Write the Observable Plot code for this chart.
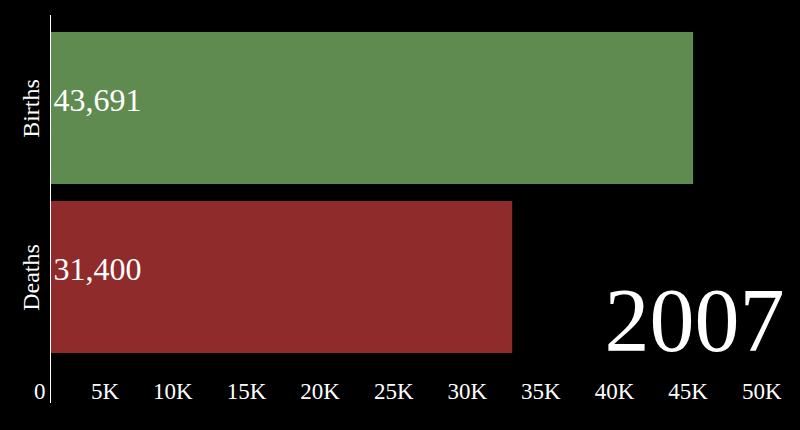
<!DOCTYPE html>
<html><head><meta charset="utf-8">
<script src="https://cdn.jsdelivr.net/npm/d3@7"></script>
<script src="https://cdn.jsdelivr.net/npm/@observablehq/plot@0.6"></script>
<style>html,body{margin:0;padding:0;background:#000;}</style>
</head><body><div id="chart"></div>
<script>
const categories = ["Births", "Deaths"];
const values = [43691, 31400];
const colors = ["#5f8b50", "#8f2b2b"];
const year = "2007";
const tickValues = [0, 5000, 10000, 15000, 20000, 25000, 30000, 35000, 40000, 45000, 50000];
const tickLabels = ["0", "5K", "10K", "15K", "20K", "25K", "30K", "35K", "40K", "45K", "50K"];

const data = categories.map((c, i) => ({category: c, value: values[i]}));
const font = "'Liberation Serif', 'DejaVu Serif', serif";
const fmt = d3.format(",");

const chart = Plot.plot({
  width: 800, height: 430,
  marginLeft: 50, marginRight: 14, marginTop: 15, marginBottom: 60,
  style: {background: "#000", color: "#fff", fontFamily: font},
  x: {domain: [0, 50000], label: null},
  y: {domain: categories, padding: 0.1, label: null},
  color: {domain: categories, range: colors},
  marks: [
    Plot.barX(data, {x: "value", y: "category", fill: "category"}),
    Plot.text(data, {x: 0, y: "category", text: d => fmt(d.value), textAnchor: "start", dx: 3, dy: -8, fill: "#fff", fontSize: 32}),
    Plot.ruleX([0], {stroke: "#fff", insetBottom: -33, strokeWidth: 1}),
    Plot.axisX({ticks: tickValues, tickFormat: d => tickLabels[tickValues.indexOf(d)], tickSize: 0, tickPadding: 12, textAnchor: "end", dx: -5, fontSize: 23, fill: "#fff", label: null}),
    Plot.axisY({tickSize: 0, tickRotate: -90, tickPadding: 12, fontSize: 24, fill: "#fff", label: null}),
    Plot.text([year], {frameAnchor: "bottom-right", text: d => d, textAnchor: "end", lineAnchor: "bottom", fontSize: 90, dx: -2, dy: -20, fill: "#fff"})
  ]
});
document.getElementById("chart").append(chart);
</script>
</body></html>
